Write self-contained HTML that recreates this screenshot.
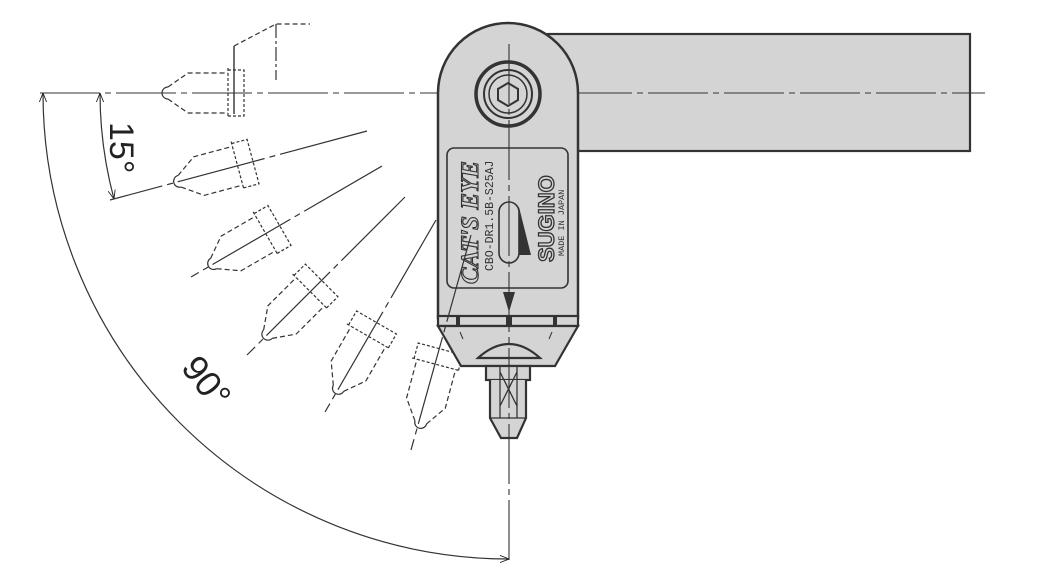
<!DOCTYPE html>
<html><head><meta charset="utf-8"><style>html,body{margin:0;padding:0;background:#fff}svg{display:block}</style></head>
<body>
<svg width="1040" height="586" viewBox="0 0 1040 586" xmlns="http://www.w3.org/2000/svg" font-family="Liberation Sans, sans-serif">
<defs>
<marker id="ar" viewBox="0 0 10 10" refX="10" refY="5" markerWidth="9" markerHeight="9" orient="auto-start-reverse" markerUnits="userSpaceOnUse">
<path d="M0,1 L10,5 L0,9" fill="none" stroke="#222" stroke-width="1"/>
</marker>
<g id="probe" fill="none" stroke="#333" stroke-width="1.2">
<path d="M168,87 A6,6 0 0 0 168,99" />
<path d="M168,87 L188,73 L228,73 M168,99 L188,113 L228,113" stroke-dasharray="5,3"/>
<path d="M228,68 L228,118 M228,70 L244,70 L244,116 L228,116" stroke-dasharray="3,2"/>
</g>
</defs>

<rect x="548" y="34" width="422" height="117" fill="#d4d4d4" stroke="#333" stroke-width="2.2"/>

<line x1="40" y1="93" x2="985" y2="93" stroke="#333" stroke-width="1.1" stroke-dasharray="60,5,6,5"/>

<path d="M43,93 A466,466 0 0 0 509,559" fill="none" stroke="#333" stroke-width="1.2" marker-start="url(#ar)" marker-end="url(#ar)"/>
<path d="M100,93 A409,409 0 0 0 114,199" fill="none" stroke="#333" stroke-width="1.2" marker-start="url(#ar)" marker-end="url(#ar)"/>
<text x="0" y="0" font-size="34" fill="#222" transform="translate(110,122) rotate(90)">15°</text>
<text x="0" y="0" font-size="36" fill="#222" transform="translate(180,368) rotate(52)">90°</text>

<use href="#probe"/>
<path d="M234,46 L234,114" stroke="#333" stroke-width="1.4"/>
<path d="M234,46 L276,24 L310,24" fill="none" stroke="#333" stroke-width="1.2" stroke-dasharray="5,3"/>
<path d="M276,24 L276,80" stroke="#333" stroke-width="1.2" stroke-dasharray="14,3,3,3"/>

<g transform="rotate(-15 509 93)"><use href="#probe"/></g>
<g transform="rotate(-30 509 93)"><use href="#probe"/></g>
<g transform="rotate(-45 509 93)"><use href="#probe"/></g>
<g transform="rotate(-60 509 93)"><use href="#probe"/></g>
<g transform="rotate(-75 509 93)"><use href="#probe"/></g>

<path d="M438,318 L438,93 A70,70 0 0 1 578,93 L578,318 Z" fill="#d4d4d4" stroke="#333" stroke-width="2.5"/>
<rect x="438" y="316" width="140" height="10" fill="#d4d4d4" stroke="#333" stroke-width="2.2"/>
<path d="M438,326 L461,366 L555,366 L578,326 Z" fill="#d4d4d4" stroke="#333" stroke-width="2.2"/>
<rect x="456" y="316" width="4" height="10" fill="#333"/>
<rect x="506" y="316" width="6" height="10" fill="#333"/>
<rect x="553" y="316" width="4" height="10" fill="#333"/>
<path d="M460,332 L463,339 M552,332 L549,339" stroke="#333"/>

<circle cx="508" cy="94" r="32" fill="#d4d4d4" stroke="#333" stroke-width="3.5"/>
<circle cx="508" cy="94" r="24" fill="#d4d4d4" stroke="#333" stroke-width="2"/>
<circle cx="508" cy="94" r="19" fill="#d4d4d4" stroke="#333" stroke-width="1.5"/>
<polygon points="508,83 518,89 518,100 508,106 498,100 498,89" fill="#d4d4d4" stroke="#333" stroke-width="2"/>

<rect x="447" y="148" width="121" height="140" rx="7" fill="#d4d4d4" stroke="#333" stroke-width="1.6"/>
<rect x="499" y="202" width="20" height="61" rx="10" fill="#d4d4d4" stroke="#333" stroke-width="1.6"/>
<polygon points="519,207 519,255 531,255" fill="#333"/>
<text transform="translate(478,284) rotate(-90)" font-family="Liberation Serif, serif" font-style="italic" font-weight="bold" font-size="25" fill="#d4d4d4" stroke="#333" stroke-width="1.1">CAT'S EYE</text>
<text transform="translate(493,271) rotate(-90)" font-family="Liberation Mono, monospace" font-size="11.5" fill="#333">CBO-DR1.5B-S25AJ</text>
<text transform="translate(554,262) rotate(-90)" font-size="22" font-weight="bold" fill="#d4d4d4" stroke="#333" stroke-width="1.3">SUGINO</text>
<text transform="translate(564,256) rotate(-90)" font-family="Liberation Mono, monospace" font-size="8.5" fill="#333">MADE IN JAPAN</text>

<path d="M478,358 Q509,330 540,358 Z" fill="#d4d4d4" stroke="#333" stroke-width="2.2"/>
<rect x="486" y="366" width="44" height="14" fill="#d4d4d4" stroke="#333" stroke-width="2.2"/>
<path d="M490,380 L490,418 L501,438 L517,438 L526,418 L526,380" fill="#d4d4d4" stroke="#333" stroke-width="2.2"/>
<path d="M500,366 L500,418 M517,366 L517,418 M500,372 L517,406 M517,372 L500,406 M490,418 L526,418" stroke="#333" stroke-width="1.3" fill="none"/>

<line x1="509" y1="44" x2="509" y2="560" stroke="#333" stroke-width="1.1" stroke-dasharray="60,5,6,5"/>
<path d="M503,292 L509,312 L515,292 Z" fill="#333"/>

<g stroke="#333" stroke-width="1.2" stroke-dasharray="90,5,6,5">
<line x1="367" y1="131" x2="110" y2="200" />
<line x1="382" y1="166" x2="191" y2="277"/>
<line x1="405" y1="197" x2="247" y2="355"/>
<line x1="436" y1="220" x2="325" y2="412"/>
<line x1="471" y1="235" x2="411" y2="450"/>
</g>
</svg>
</body></html>
